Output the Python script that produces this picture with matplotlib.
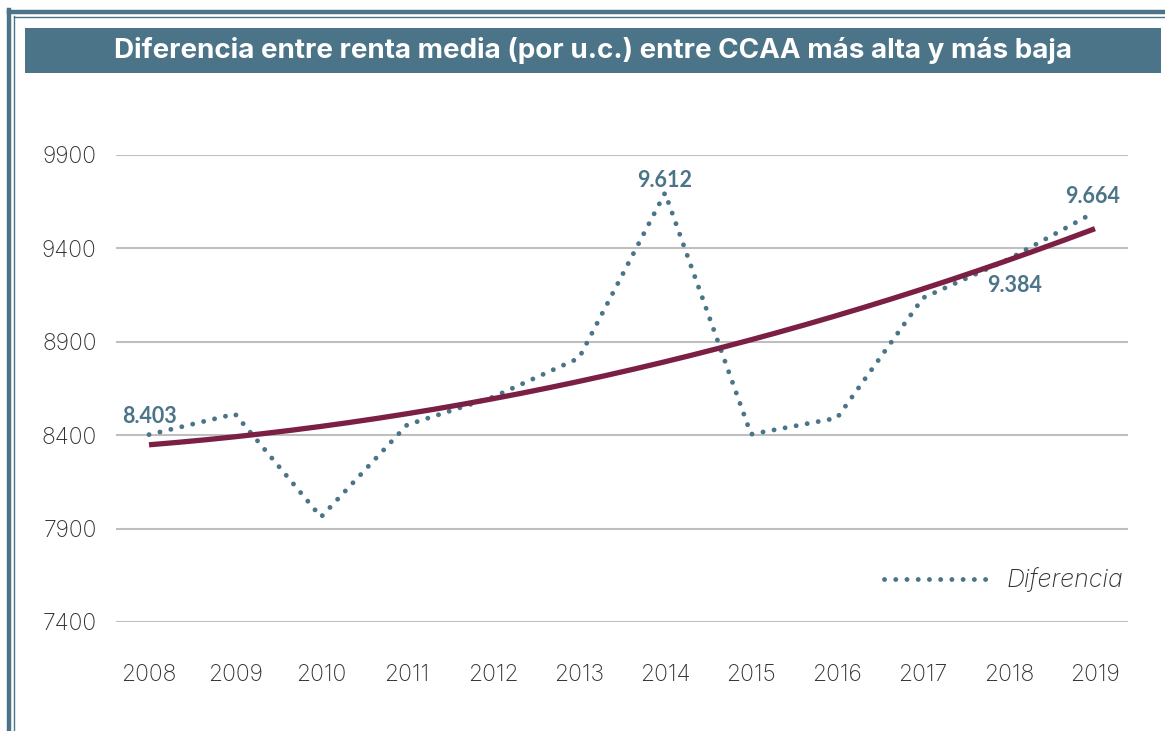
import numpy as np
import matplotlib
matplotlib.use("Agg")
import matplotlib.pyplot as plt
from matplotlib.lines import Line2D
from matplotlib.patches import Rectangle

years = ["2008", "2009", "2010", "2011", "2012", "2013",
         "2014", "2015", "2016", "2017", "2018", "2019"]
diferencia = [8403, 8514, 7962, 8455, 8604, 8813,
              9697, 8405, 8492, 9135, 9343, 9595]
tendencia = [8335, 8396, 8460, 8524, 8588, 8680,
             8803, 8920, 9033, 9161, 9338, 9520]
label_years = ["2008", "2014", "2018", "2019"]
label_texts = ["8.403", "9.612", "9.384", "9.664"]
yticks = [7400, 7900, 8400, 8900, 9400, 9900]
title = "Diferencia entre renta media (por u.c.) entre CCAA más alta y más baja"

BLUE = "#4b7489"
MAROON = "#7b1f44"
GRID = "#bfbfbf"
TXT = "#333333"

W, H = 1165, 731
fig = plt.figure(figsize=(W / 100, H / 100), dpi=100)

# frame (double line)
fig.add_artist(Line2D([9 / W, 9 / W], [0, 1 - 10 / H], color=BLUE, lw=3.2, transform=fig.transFigure))
fig.add_artist(Line2D([9 / W, 1], [1 - 11.5 / H, 1 - 11.5 / H], color=BLUE, lw=3.2, transform=fig.transFigure))
fig.add_artist(Line2D([14 / W, 14 / W], [0, 1 - 16 / H], color=BLUE, lw=1.0, transform=fig.transFigure))
fig.add_artist(Line2D([14 / W, 1], [1 - 16.5 / H, 1 - 16.5 / H], color=BLUE, lw=1.0, transform=fig.transFigure))

# title bar
fig.add_artist(Rectangle((25 / W, 1 - 73 / H), (1161 - 25) / W, 45 / H,
                         transform=fig.transFigure, color=BLUE, lw=0))
fig.text(593 / W, 1 - 51 / H, title, color="white", fontsize=20,
         fontweight="bold", family="Inter", ha="center", va="center")

ax = fig.add_axes([116 / W, (H - 622) / H, (1128 - 116) / W, (622 - 155) / H])
x = np.arange(len(years))

ax.set_xlim(-0.384, len(years) - 1 + 0.384)
ax.set_ylim(7400, 9900)
ax.set_yticks(yticks)
ax.set_yticklabels([str(v) for v in yticks])
ax.set_xticks(x)
ax.set_xticklabels(years)
for s in ax.spines.values():
    s.set_visible(False)
ax.tick_params(length=0, labelsize=16.5, labelcolor=TXT)
ax.tick_params(axis="y", pad=14)
ax.tick_params(axis="x", pad=30)
for lab in ax.get_xticklabels() + ax.get_yticklabels():
    lab.set_family("Inter")
    lab.set_fontweight("light")
ax.grid(axis="y", color=GRID, lw=1.5)
ax.set_axisbelow(True)

# data line (dotted)
ax.plot(x, diferencia, color=BLUE, lw=3.5, linestyle=(0, (0.01, 2.3)),
        dash_capstyle="round", clip_on=False, zorder=3, label="Diferencia")

# polynomial trend line (smoothed from read trend values)
coef = np.polyfit(x, tendencia, 2)
xs = np.linspace(0, len(years) - 1, 200)
ax.plot(xs, np.polyval(coef, xs), color=MAROON, lw=3.8, solid_capstyle="butt",
        clip_on=False, zorder=4)

# data labels
offsets = {"2008": (0, 18), "2014": (0, 12), "2018": (6, -26), "2019": (-2, 15)}
for yr, txt in zip(label_years, label_texts):
    i = years.index(yr)
    dx, dy = offsets[yr]
    ax.annotate(txt, (x[i], diferencia[i]), xytext=(dx * 0.72, dy * 0.72),
                textcoords="offset points", ha="center", va="center",
                color=BLUE, fontsize=15.5, fontweight="bold", family="Lato",
                zorder=5)

# legend
leg = ax.legend(loc="center right", bbox_to_anchor=(1123 / W, (H - 580) / H),
                bbox_transform=fig.transFigure, frameon=False,
                handlelength=4.3, handletextpad=0.6, borderaxespad=0,
                borderpad=0,
                prop={"family": "Inter", "style": "italic", "weight": "light", "size": 18})
for t in leg.get_texts():
    t.set_color(TXT)

fig.savefig("out.png", dpi=100)
